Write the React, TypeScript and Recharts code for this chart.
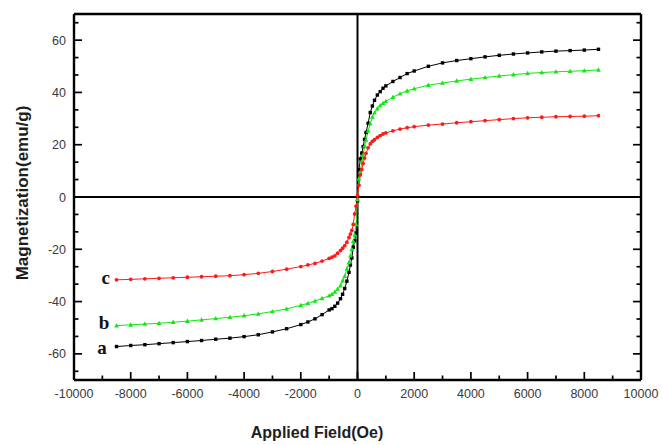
import React from 'react'
import { LineChart, Line, XAxis, YAxis, ReferenceLine, ReferenceDot } from 'recharts'

// applied field (Oe), shared by the three samples
const fields = [
  -8500, -8000, -7500, -7000, -6500, -6000, -5500, -5000, -4500, -4000, -3500, -3000, -2500, -2000,
  -1750, -1500, -1250, -1000, -900, -800, -700, -600, -525, -450, -375, -300, -250, -200, -150, -100, -50,
  0,
  50, 100, 150, 200, 250, 300, 375, 450, 525, 600, 700, 800, 900, 1000, 1250, 1500, 1750,
  2000, 2500, 3000, 3500, 4000, 4500, 5000, 5500, 6000, 6500, 7000, 7500, 8000, 8500,
]

// magnetization (emu/g)
const sampleA = [
  -57.2, -56.8, -56.5, -56.1, -55.7, -55.3, -54.9, -54.4, -54.0, -53.4, -52.7, -51.6, -50.4, -48.8,
  -47.8, -46.6, -45.0, -43.2, -42.7, -41.8, -40.6, -38.9, -37.2, -35.0, -32.2, -28.8, -26.0, -23.3, -19.2, -16.8, -13.8,
  -1.5,
  10.5, 14.6, 16.8, 19.3, 22.0, 24.7, 28.2, 32.3, 34.8, 37.0, 39.0, 40.3, 41.6, 42.5, 44.2, 45.7, 47.2,
  48.2, 50.0, 51.3, 52.2, 52.9, 53.6, 54.2, 54.7, 55.1, 55.5, 55.8, 56.0, 56.2, 56.5,
]
const sampleB = [
  -49.2, -48.9, -48.6, -48.3, -47.9, -47.5, -47.0, -46.5, -46.0, -45.4, -44.7, -43.8, -42.8, -41.4,
  -40.7, -39.8, -38.8, -37.8, -37.2, -36.3, -35.2, -33.9, -32.0, -30.3, -27.5, -25.0, -22.5, -20.0, -17.0, -14.5, -10.5,
  -1.0,
  7.0, 9.5, 13.5, 16.2, 19.5, 21.8, 25.3, 28.0, 30.6, 32.2, 33.8, 35.0, 35.9, 36.6, 38.2, 39.5, 40.6,
  41.4, 42.8, 43.6, 44.4, 45.1, 45.7, 46.3, 46.8, 47.3, 47.6, 47.9, 48.1, 48.3, 48.6,
]
const sampleC = [
  -31.7, -31.5, -31.3, -31.1, -30.9, -30.7, -30.5, -30.3, -30.1, -29.7, -29.2, -28.5, -27.6, -26.6,
  -26.0, -25.4, -24.5, -23.5, -23.0, -22.5, -21.5, -20.5, -19.6, -18.6, -17.3, -15.5, -14.2, -12.8, -10.5, -6.5, -3.5,
  0.5,
  4.5, 8.5, 10.5, 12.8, 14.9, 16.7, 18.8, 20.3, 21.3, 21.9, 22.8, 23.5, 24.1, 24.5, 25.3, 26.0, 26.5,
  26.9, 27.5, 27.9, 28.4, 28.8, 29.2, 29.6, 30.0, 30.3, 30.5, 30.7, 30.8, 30.9, 31.1,
]

const xMajorTicks = [-10000, -8000, -6000, -4000, -2000, 0, 2000, 4000, 6000, 8000, 10000]
const xMinorTicks = [-9000, -7000, -5000, -3000, -1000, 1000, 3000, 5000, 7000, 9000]
const yMajorTicks = [-60, -40, -20, 0, 20, 40, 60]
// two minor ticks between each pair of major ticks
const yMinorTicks: number[] = []
for (let k = -10; k <= 10; k++) if (k % 3 !== 0) yMinorTicks.push((k * 20) / 3)

const xTicks = [...xMajorTicks, ...xMinorTicks].sort((p, q) => p - q)
const yTicks = [...yMajorTicks, ...yMinorTicks].sort((p, q) => p - q)

const data = fields.map((f, i) => ({ field: f, a: sampleA[i], b: sampleB[i], c: sampleC[i] }))

const GREEN = '#14e614'
const RED = '#ff1a1a'
const FONT = 'Liberation Sans, Arial, sans-serif'
const MAJOR = 8
const MINOR = 4.5

const SquareDot = (props: any) => {
  const { cx, cy, index } = props
  if (cx == null || cy == null) return <g key={index} />
  return <rect key={index} x={cx - 1.7} y={cy - 1.7} width={3.4} height={3.4} fill="#000" />
}
const TriangleDot = (props: any) => {
  const { cx, cy, index } = props
  if (cx == null || cy == null) return <g key={index} />
  return <polygon key={index} points={`${cx},${cy - 2.6} ${cx - 2.4},${cy + 1.8} ${cx + 2.4},${cy + 1.8}`} fill={GREEN} />
}
const CircleDot = (props: any) => {
  const { cx, cy, index } = props
  if (cx == null || cy == null) return <g key={index} />
  return <circle key={index} cx={cx} cy={cy} r={1.9} fill={RED} />
}

// inward ticks, long for major and short for minor; labels only on major
const isMajorX = (v: number) => xMajorTicks.includes(v)
const isMajorY = (v: number) => yMajorTicks.includes(v)

const BottomTick = (props: any) => {
  const { x, y, payload } = props
  const major = isMajorX(payload.value)
  return (
    <g>
      <line x1={x} x2={x} y1={y} y2={y - (major ? MAJOR : MINOR)} stroke="#000" strokeWidth={1.7} />
      {major && (
        <text x={x} y={y + 17.5} textAnchor="middle" fill="#3a3a3a" fontSize={12.5} fontFamily={FONT}>
          {payload.value}
        </text>
      )}
    </g>
  )
}
const TopTick = (props: any) => {
  const { x, y, payload } = props
  const major = isMajorX(payload.value)
  return <line x1={x} x2={x} y1={y} y2={y + (major ? MAJOR : MINOR)} stroke="#000" strokeWidth={1.7} />
}
const LeftTick = (props: any) => {
  const { x, y, payload } = props
  const major = isMajorY(payload.value)
  return (
    <g>
      <line x1={x} x2={x + (major ? MAJOR : MINOR)} y1={y} y2={y} stroke="#000" strokeWidth={1.7} />
      {major && (
        <text x={x - 8} y={y + 4.5} textAnchor="end" fill="#3a3a3a" fontSize={12.5} fontFamily={FONT}>
          {payload.value}
        </text>
      )}
    </g>
  )
}
const RightTick = (props: any) => {
  const { x, y, payload } = props
  const major = isMajorY(payload.value)
  return <line x1={x} x2={x - (major ? MAJOR : MINOR)} y1={y} y2={y} stroke="#000" strokeWidth={1.7} />
}

const frame = { stroke: '#000', strokeWidth: 2.4 }
const labelStyle = { fill: '#111', fontSize: 19, fontWeight: 'bold', fontFamily: 'Liberation Serif, serif' }

export default function App() {
  return (
    <div style={{ position: 'absolute', left: 0, top: 0, width: 662, height: 445, background: '#fff' }}>
      <LineChart width={662} height={445} data={data} margin={{ top: 4, right: 11, bottom: 35, left: 34 }}>
        <XAxis xAxisId="x" dataKey="field" type="number" domain={[-10000, 10000]} ticks={xTicks}
          height={30} tickSize={0} tickMargin={0} axisLine={frame} tickLine={false} tick={BottomTick}
          allowDataOverflow interval={0} />
        <XAxis xAxisId="xt" orientation="top" type="number" domain={[-10000, 10000]} ticks={xTicks}
          height={10} tickSize={0} tickMargin={0} axisLine={frame} tickLine={false} tick={TopTick}
          allowDataOverflow interval={0} />
        <YAxis yAxisId="y" type="number" domain={[-70, 70]} ticks={yTicks}
          width={40} tickSize={0} tickMargin={0} axisLine={frame} tickLine={false} tick={LeftTick}
          allowDataOverflow interval={0} />
        <YAxis yAxisId="yr" orientation="right" type="number" domain={[-70, 70]} ticks={yTicks}
          width={10} tickSize={0} tickMargin={0} axisLine={frame} tickLine={false} tick={RightTick}
          allowDataOverflow interval={0} />

        <ReferenceLine xAxisId="x" yAxisId="y" x={0} stroke="#000" strokeWidth={2} />
        <ReferenceLine xAxisId="x" yAxisId="y" y={0} stroke="#000" strokeWidth={2} />

        <Line xAxisId="x" yAxisId="y" dataKey="a" type="linear" stroke="#000" strokeWidth={1}
          dot={SquareDot} activeDot={false} isAnimationActive={false} />
        <Line xAxisId="x" yAxisId="y" dataKey="b" type="linear" stroke={GREEN} strokeWidth={1}
          dot={TriangleDot} activeDot={false} isAnimationActive={false} />
        <Line xAxisId="x" yAxisId="y" dataKey="c" type="linear" stroke={RED} strokeWidth={1}
          dot={CircleDot} activeDot={false} isAnimationActive={false} />

        <ReferenceDot xAxisId="x" yAxisId="y" x={-8880} y={-30.6} r={0} fill="none" stroke="none"
          label={{ value: 'c', position: 'center', ...labelStyle }} />
        <ReferenceDot xAxisId="x" yAxisId="y" x={-8940} y={-48.1} r={0} fill="none" stroke="none"
          label={{ value: 'b', position: 'center', ...labelStyle }} />
        <ReferenceDot xAxisId="x" yAxisId="y" x={-9010} y={-57.3} r={0} fill="none" stroke="none"
          label={{ value: 'a', position: 'center', ...labelStyle }} />
      </LineChart>

      <div style={{
        position: 'absolute', left: 23, top: 193, transform: 'translate(-50%, -50%) rotate(-90deg)',
        whiteSpace: 'nowrap', fontFamily: FONT, fontWeight: 'bold', fontSize: 17, color: '#1e1e1e',
      }}>Magnetization(emu/g)</div>
      <div style={{
        position: 'absolute', left: 317, top: 433, transform: 'translate(-50%, -50%)',
        whiteSpace: 'nowrap', fontFamily: FONT, fontWeight: 'bold', fontSize: 16, color: '#1e1e1e',
      }}>Applied Field(Oe)</div>
    </div>
  )
}
